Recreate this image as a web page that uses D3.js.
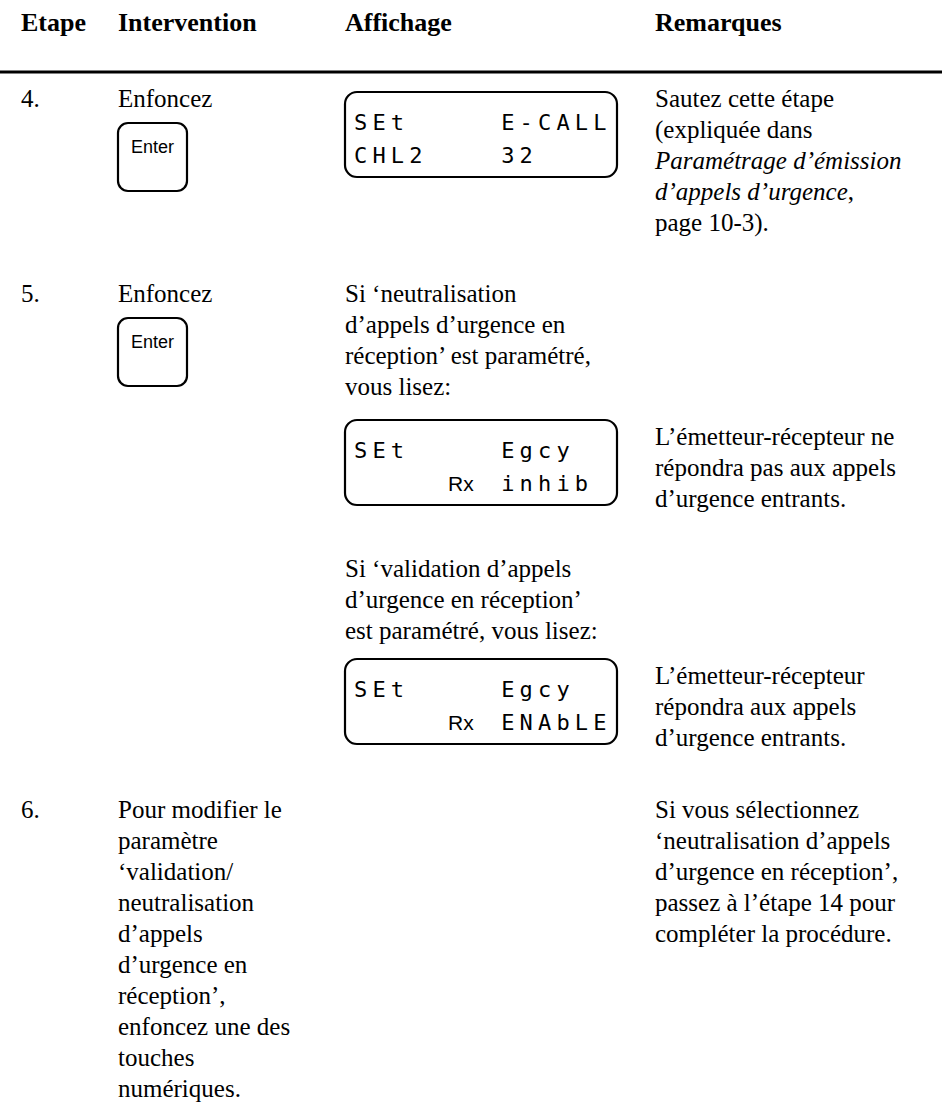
<!DOCTYPE html>
<html>
<head>
<meta charset="utf-8">
<script src="https://cdn.jsdelivr.net/npm/d3@7/dist/d3.min.js"></script>
<style>
  html, body { margin: 0; padding: 0; background: #fff; }
  svg { display: block; }
</style>
</head>
<body>
<div id="chart"></div>
<script>
// ---------- DATA ----------
const headers = ["Etape", "Intervention", "Affichage", "Remarques"];
const steps = ["4.", "5.", "6."];
const interventions = [
  ["Enfoncez"],
  ["Enfoncez"],
  ["Pour modifier le", "paramètre", "‘validation/", "neutralisation", "d’appels",
   "d’urgence en", "réception’,", "enfoncez une des", "touches", "numériques."]
];
const keyLabels = ["Enter", "Enter", null];
// LCD displays: each line is a list of [column, text, kind]
const lcd1 = [[[0, "SEt", "seg"], [8, "E-CALL", "seg"]], [[0, "CHL2", "seg"], [8, "32", "seg"]]];
const lcd2 = [[[0, "SEt", "seg"], [8, "Egcy", "seg"]], [[5, "Rx", "sans"], [8, "inhib", "seg"]]];
const lcd3 = [[[0, "SEt", "seg"], [8, "Egcy", "seg"]], [[5, "Rx", "sans"], [8, "ENAbLE", "seg"]]];
const affText5a = ["Si ‘neutralisation", "d’appels d’urgence en", "réception’ est paramétré,", "vous lisez:"];
const affText5b = ["Si ‘validation d’appels", "d’urgence en réception’", "est paramétré, vous lisez:"];
// remarks: each line is a list of [text, italic]
const remarks4 = [
  [["Sautez cette étape", false]],
  [["(expliquée dans", false]],
  [["Paramétrage d’émission", true]],
  [["d’appels d’urgence", true], [",", false]],
  [["page 10-3).", false]]
];
const remarks5a = [[["L’émetteur-récepteur ne", false]], [["répondra pas aux appels", false]], [["d’urgence entrants.", false]]];
const remarks5b = [[["L’émetteur-récepteur", false]], [["répondra aux appels", false]], [["d’urgence entrants.", false]]];
const remarks6 = [
  [["Si vous sélectionnez", false]],
  [["‘neutralisation d’appels", false]],
  [["d’urgence en réception’,", false]],
  [["passez à l’étape 14 pour", false]],
  [["compléter la procédure.", false]]
];

// ---------- LAYOUT ----------
const W = 942, H = 1107;
const serif = "'Liberation Serif', 'Times New Roman', Times, serif";
const sans = "'Liberation Sans', Arial, Helvetica, sans-serif";
const mono = "'DejaVu Sans Mono', monospace";
const fs = 25, lh = 31;
const col = d3.scaleOrdinal().domain(headers).range([21, 118, 345, 655]);
const rowBase = d3.scaleOrdinal().domain(steps).range([107, 302, 818]);
const lineY = (base, i) => base + i * lh;

const svg = d3.select("#chart").append("svg")
  .attr("width", W).attr("height", H)
  .attr("viewBox", `0 0 ${W} ${H}`);
svg.append("rect").attr("width", W).attr("height", H).attr("fill", "#fff");

// header
svg.selectAll("text.hdr").data(headers).join("text")
  .attr("class", "hdr")
  .attr("x", d => col(d)).attr("y", 31)
  .attr("font-family", serif).attr("font-weight", "bold").attr("font-size", 26)
  .attr("fill", "#000").text(d => d);
svg.append("line").attr("x1", 0).attr("x2", W).attr("y1", 72).attr("y2", 72)
  .attr("stroke", "#000").attr("stroke-width", 3);

function lines(arr, x, base) {
  svg.append("g").selectAll("text").data(arr).join("text")
    .attr("x", x).attr("y", (d, i) => lineY(base, i))
    .attr("font-family", serif).attr("font-size", fs).attr("fill", "#000")
    .text(d => d);
}
function richLines(arr, x, base) {
  const t = svg.append("g").selectAll("text").data(arr).join("text")
    .attr("x", x).attr("y", (d, i) => lineY(base, i))
    .attr("font-family", serif).attr("font-size", fs).attr("fill", "#000");
  t.selectAll("tspan").data(d => d).join("tspan")
    .attr("font-style", d => d[1] ? "italic" : "normal")
    .text(d => d[0]);
}
function key(x, base, label) {
  const top = base + 16;
  svg.append("rect").attr("x", x).attr("y", top).attr("width", 69).attr("height", 68)
    .attr("rx", 10).attr("ry", 10).attr("fill", "none")
    .attr("stroke", "#000").attr("stroke-width", 2.2);
  svg.append("text").attr("x", x + 34.5).attr("y", top + 30)
    .attr("text-anchor", "middle").attr("font-family", sans).attr("font-size", 18)
    .attr("fill", "#000").text(label);
}
function lcd(data, x, top) {
  const w = 272, h = 85;
  svg.append("rect").attr("x", x).attr("y", top).attr("width", w).attr("height", h)
    .attr("rx", 12).attr("ry", 12).attr("fill", "none")
    .attr("stroke", "#000").attr("stroke-width", 2.2);
  const cx = d3.scaleLinear().domain([0, 14]).range([x + 9, x + 9 + 14 * 18.4]);
  const ly = d3.scaleOrdinal().domain([0, 1]).range([top + 38, top + 71]);
  data.forEach((ln, li) => {
    ln.forEach(([c, str, kind]) => {
      if (kind === "sans") {
        svg.append("text").attr("x", cx(c) + 2).attr("y", ly(li))
          .attr("font-family", sans).attr("font-size", 21).attr("fill", "#000").text(str);
      } else {
        const g = svg.append("text").attr("y", ly(li))
          .attr("font-family", mono).attr("font-size", 22).attr("fill", "#000");
        g.selectAll("tspan").data(str.split("")).join("tspan")
          .attr("x", (d, i) => cx(c + i)).text(d => d);
      }
    });
  });
}

// step numbers
svg.selectAll("text.step").data(steps).join("text")
  .attr("class", "step").attr("x", col("Etape")).attr("y", d => rowBase(d))
  .attr("font-family", serif).attr("font-size", fs).attr("fill", "#000").text(d => d);

// interventions
steps.forEach((s, i) => {
  lines(interventions[i], col("Intervention"), rowBase(s));
  if (keyLabels[i]) key(col("Intervention"), rowBase(s), keyLabels[i]);
});

// Row 4
lcd(lcd1, col("Affichage"), rowBase("4.") - 15);
richLines(remarks4, col("Remarques"), rowBase("4."));

// Row 5
const b5 = rowBase("5.");
lines(affText5a, col("Affichage"), b5);
const lcd2Top = lineY(b5, affText5a.length - 1) + 25;
lcd(lcd2, col("Affichage"), lcd2Top);
richLines(remarks5a, col("Remarques"), lcd2Top + 25);
const b5b = 577;
lines(affText5b, col("Affichage"), b5b);
const lcd3Top = lineY(b5b, affText5b.length - 1) + 20;
lcd(lcd3, col("Affichage"), lcd3Top);
richLines(remarks5b, col("Remarques"), lcd3Top + 25);

// Row 6
richLines(remarks6, col("Remarques"), rowBase("6."));
</script>
</body>
</html>
